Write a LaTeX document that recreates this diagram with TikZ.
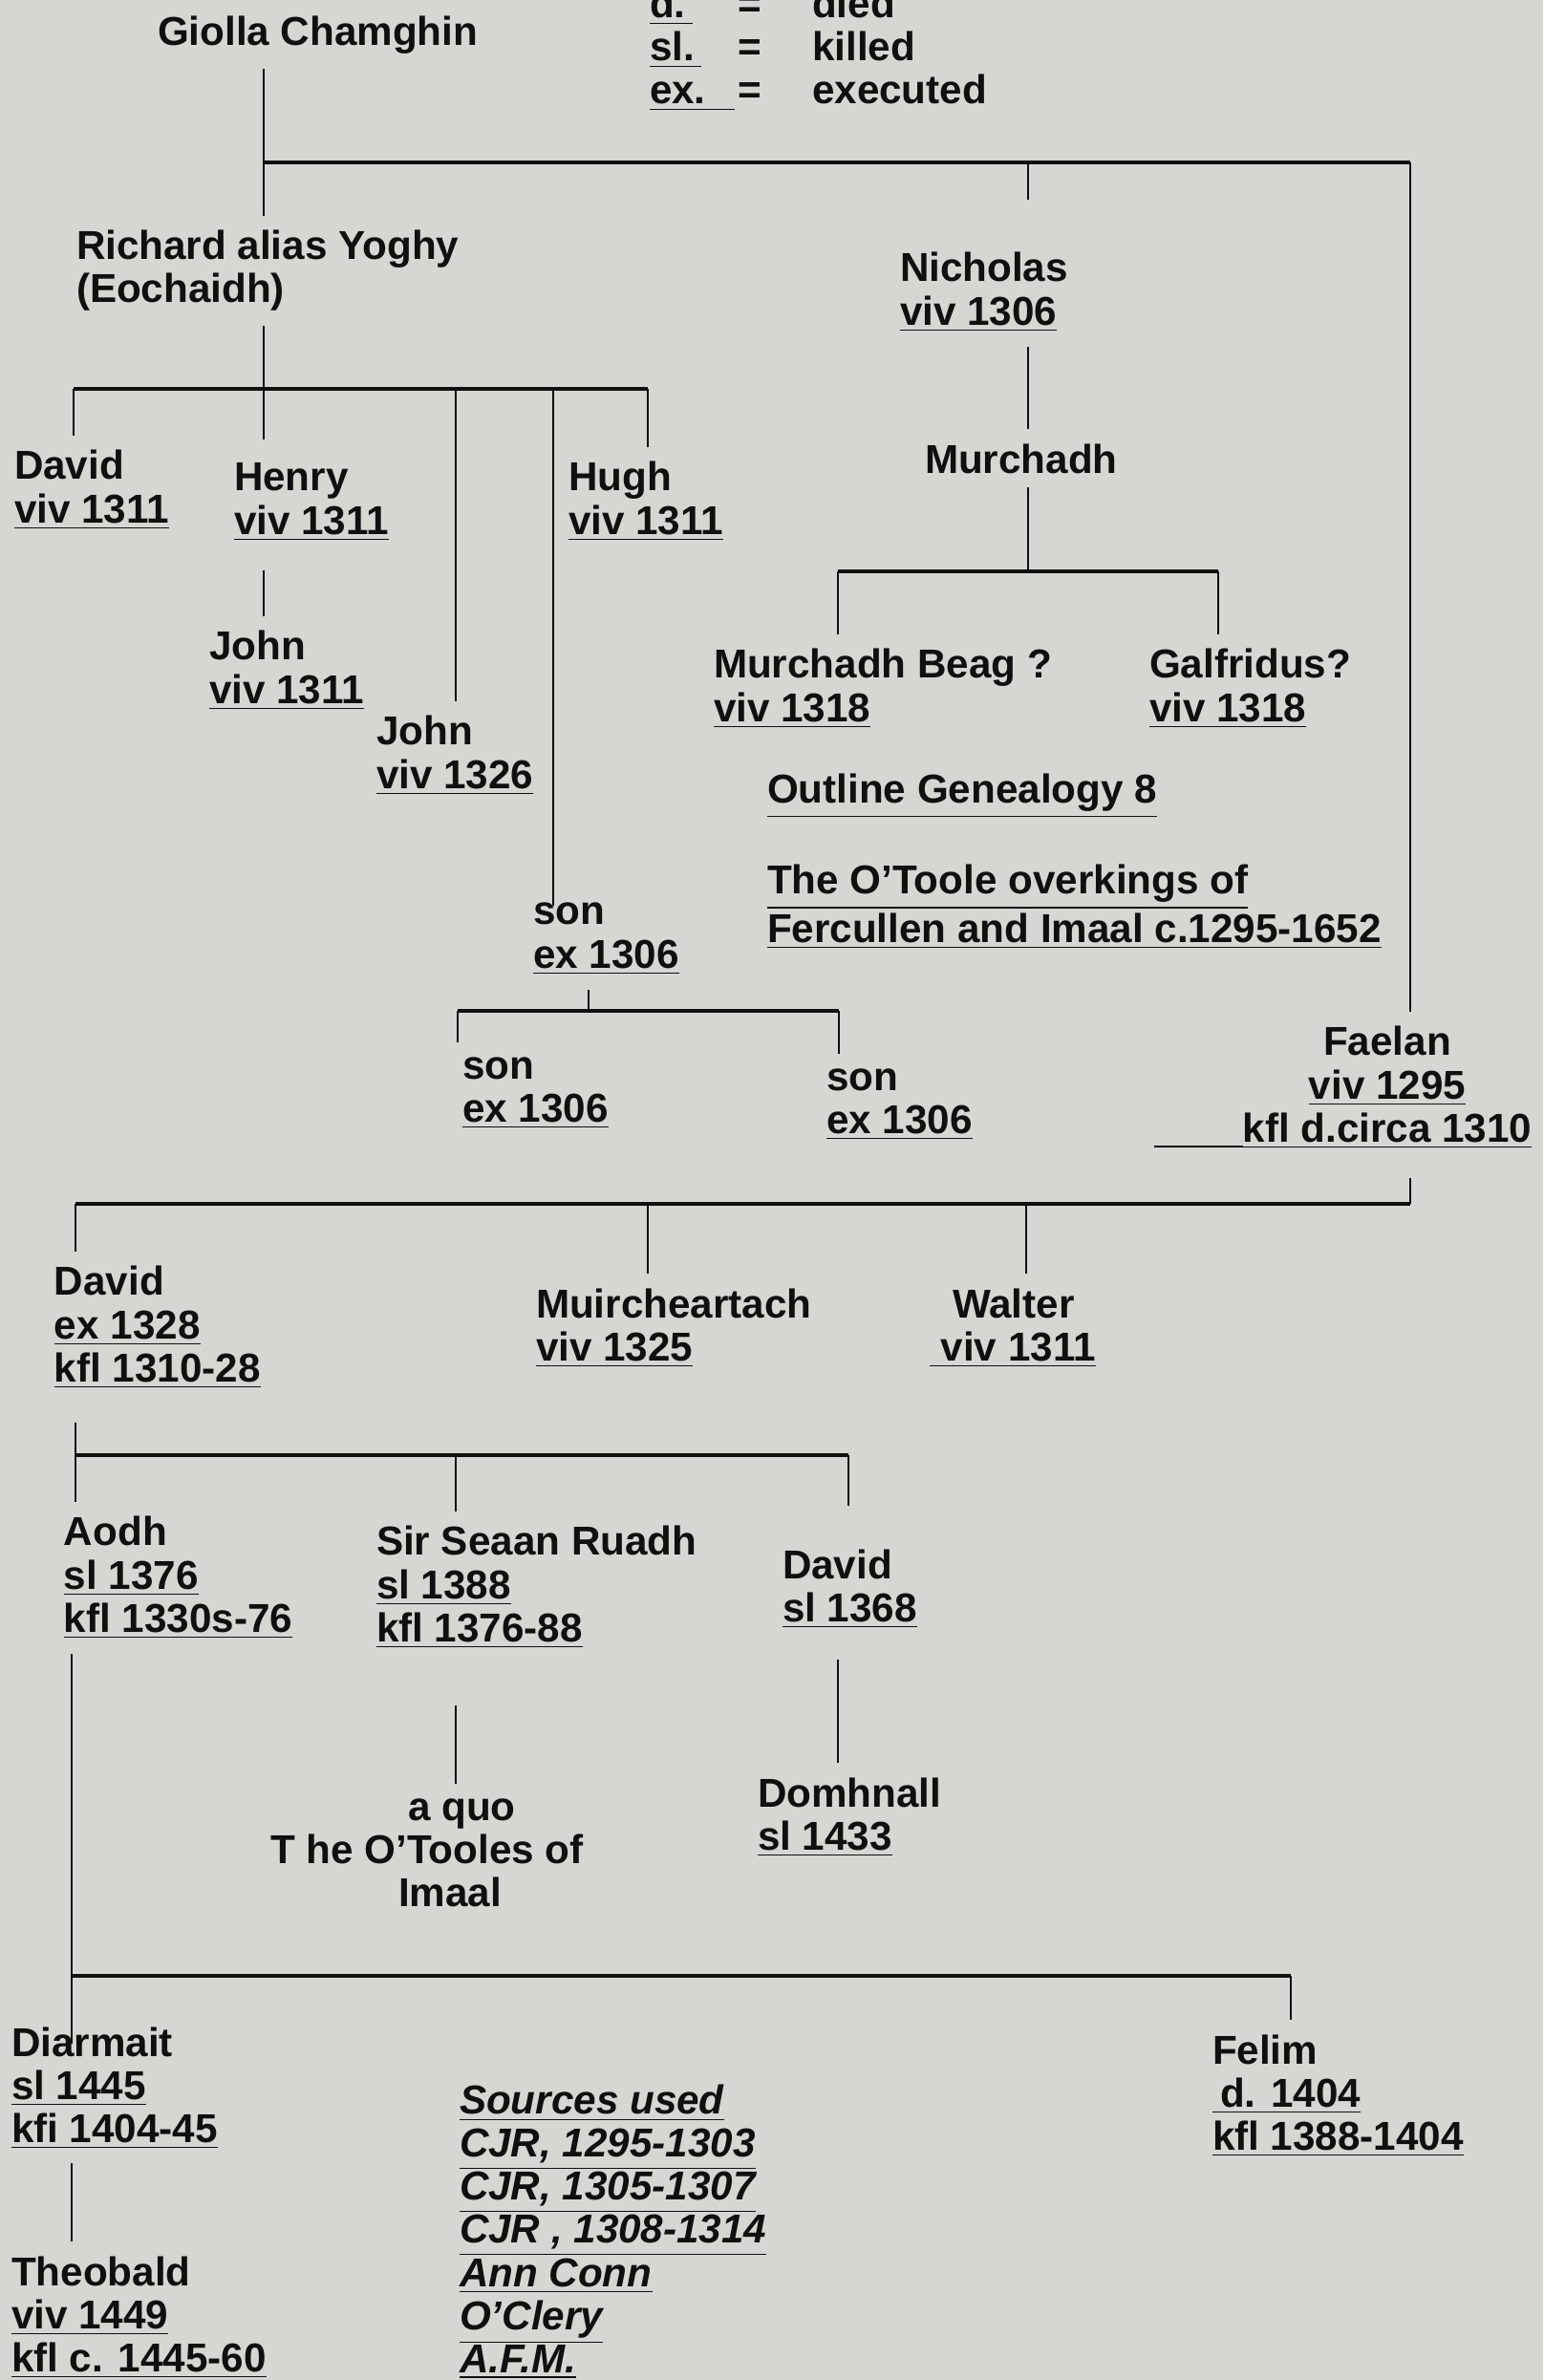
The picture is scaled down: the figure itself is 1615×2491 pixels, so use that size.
\documentclass[tikz,border=0pt]{standalone}
\usepackage{fontspec}
\setmainfont{Liberation Sans}
\definecolor{paper}{RGB}{214,215,211}
\definecolor{ink}{RGB}{16,16,16}

\begin{document}
\begin{tikzpicture}[
        x=0.01cm, y=-0.01cm,
        person/.style={anchor=base west, align=left, inner sep=0pt, outer xsep=0pt, outer ysep=0.15cm,
                       font=\bfseries\fontsize{12}{12.8}\selectfont, text=ink},
        tie/.style={draw=ink, line width=0.75pt},
        bar/.style={draw=ink, line width=1.1pt}
    ]
        \fill[paper] (0,0) rectangle (1615,2491);
        \useasboundingbox (0,0) rectangle (1615,2491);

        % people (placed at the baseline of their last line)
        \node[person] (giolla) at (165,48) {Giolla Chamghin};
        \node[person] (key) at (680,109) {\makebox[0.92cm][l]{\underline{d.\,}}\makebox[0.78cm][l]{=}died\\
            \makebox[0.92cm][l]{\underline{sl.\,}}\makebox[0.78cm][l]{=}killed\\
            \makebox[0.92cm][l]{\underline{ex.\hspace{0.3cm}}}\makebox[0.78cm][l]{=}executed};
        \node[person] (richard) at (80,317) {Richard alias Yoghy\\(Eochaidh)};
        \node[person] (nicholas) at (942,340) {Nicholas\\\underline{viv 1306}};
        \node[person] (david1) at (15,547) {David\\\underline{viv 1311}};
        \node[person] (henry) at (245,559) {Henry\\\underline{viv 1311}};
        \node[person] (hugh) at (595,559) {Hugh\\\underline{viv 1311}};
        \node[person] (john1) at (219,736) {John\\\underline{viv 1311}};
        \node[person] (john2) at (394,825) {John\\\underline{viv 1326}};
        \node[person] (murchadh) at (968,495) {Murchadh};
        \node[person] (beag) at (747,755) {Murchadh Beag ?\\\underline{viv 1318}};
        \node[person] (galfridus) at (1203,755) {Galfridus?\\\underline{viv 1318}};
        \node[person] (title) at (803,986) {\underline{Outline Genealogy 8}\\[0.45cm]
            \underline{The O’Toole overkings of}\\\underline{Fercullen and Imaal c.1295-1652}};
        \node[person] (son0) at (558,1013) {son\\\underline{ex 1306}};
        \node[person] (son1) at (484,1174) {son\\\underline{ex 1306}};
        \node[person] (son2) at (865,1186) {son\\\underline{ex 1306}};
        \node[person, anchor=base, align=center] (faelan) at (1452,1195) {Faelan\\\underline{viv 1295}\\
            \llap{\underline{\hspace{0.93cm}}}\underline{kfl d.circa 1310}};
        \node[person] (david2) at (57,1446) {David\\\underline{ex 1328}\\\underline{kfl 1310-28}};
        \node[person] (muirch) at (561,1424) {Muircheartach\\\underline{viv 1325}};
        \node[person] (walter) at (973,1424) {\hspace*{0.24cm}Walter\\\underline{\ viv 1311}};
        \node[person] (aodh) at (67,1708) {Aodh\\\underline{sl 1376}\\\underline{kfl 1330s-76}};
        \node[person] (seaan) at (394,1718) {Sir Seaan Ruadh\\\underline{sl 1388}\\\underline{kfl 1376-88}};
        \node[person] (david3) at (819,1697) {David\\\underline{sl 1368}};
        \node[person] (aquo) at (283,1995) {\hspace*{1.44cm}a quo\\T he O’Tooles of\\\hspace*{1.34cm}Imaal};
        \node[person] (domhnall) at (793,1936) {Domhnall\\\underline{sl 1433}};
        \node[person] (diarmait) at (12,2242) {Diarmait\\\underline{sl 1445}\\\underline{kfi 1404-45}};
        \node[person] (felim) at (1269,2250) {Felim\\\underline{\kern0.08cm d. 1404}\\\underline{kfl 1388-1404}};
        \node[person] (theobald) at (12,2482) {Theobald\\\underline{viv 1449}\\\underline{kfl c. 1445-60}};
        \node[person, font=\bfseries\itshape\fontsize{12}{12.8}\selectfont] (sources) at (481,2483) {\underline{Sources used}\\
            \underline{CJR, 1295-1303}\\\underline{CJR, 1305-1307}\\\underline{CJR , 1308-1314}\\
            \underline{Ann Conn}\\\underline{O’Clery}\\\underline{A.F.M.}};

        % family bars
        \coordinate (gc) at (276,170);
        \coordinate (gn) at (1076,170);
        \coordinate (gr) at (1476,170);
        \coordinate (ra) at (77,407);
        \coordinate (rc) at (276,407);
        \coordinate (r3) at (477,407);
        \coordinate (r4) at (579,407);
        \coordinate (rb) at (678,407);
        \coordinate (ma) at (877,598);
        \coordinate (mc) at (1076,598);
        \coordinate (mb) at (1275,598);
        \coordinate (sa) at (479,1058);
        \coordinate (sc) at (616,1058);
        \coordinate (sb) at (878,1058);
        \coordinate (fa) at (79,1260);
        \coordinate (f2) at (678,1260);
        \coordinate (f3) at (1074,1260);
        \coordinate (fb) at (1476,1260);
        \coordinate (dc) at (79,1523);
        \coordinate (d2) at (477,1523);
        \coordinate (db) at (888,1523);
        \coordinate (ea) at (75,2068);
        \coordinate (eb) at (1351,2068);

        \draw[bar] (gc) -- (gr);
        \draw[bar] (ra) -- (rb);
        \draw[bar] (ma) -- (mb);
        \draw[bar] (sa) -- (sb);
        \draw[bar] (fa) -- (fb);
        \draw[bar] (dc) -- (db);
        \draw[bar] (ea) -- (eb);

        % lines of descent
        \draw[tie] (giolla.south -| gc) -- (richard.north -| gc);
        \draw[tie, shorten >=0.4cm] (gn) -- (nicholas.north -| gn);
        \draw[tie] (gr) -- (faelan.north -| gr);
        \draw[tie, shorten <=0.15cm] (faelan.south -| fb) -- (fb);
        \draw[tie] (richard.south -| rc) -- (rc);
        \draw[tie] (ra) -- (david1.north -| ra);
        \draw[tie, shorten >=0.1cm] (rc) -- (henry.north -| rc);
        \draw[tie, shorten <=0.15cm] (henry.south -| rc) -- (john1.north -| rc);
        \draw[tie] (r3) -- (john2.north -| r3);
        \draw[tie, shorten >=-0.18cm] (r4) -- (son0.north -| r4);
        \draw[tie] (rb) -- (hugh.north -| rb);
        \draw[tie] (nicholas.south -| gn) -- (murchadh.north -| gn);
        \draw[tie] (murchadh.south -| mc) -- (mc);
        \draw[tie] (ma) -- (beag.north -| ma);
        \draw[tie] (mb) -- (galfridus.north -| mb);
        \draw[tie] (son0.south -| sc) -- (sc);
        \draw[tie] (sa) -- (son1.north -| sa);
        \draw[tie] (sb) -- (son2.north -| sb);
        \draw[tie] (fa) -- (david2.north -| fa);
        \draw[tie] (f2) -- (muirch.north -| f2);
        \draw[tie] (f3) -- (walter.north -| f3);
        \draw[tie, shorten <=0.2cm] (david2.south -| dc) -- (aodh.north -| dc);
        \draw[tie] (d2) -- (seaan.north -| d2);
        \draw[tie, shorten >=0.3cm] (db) -- (david3.north -| db);
        \draw[tie, shorten <=0.44cm] (seaan.south -| d2) -- (aquo.north -| d2);
        \draw[tie, shorten <=0.17cm] (david3.south -| ma) -- (domhnall.north -| ma);
        \draw[tie, shorten >=-0.33cm] (aodh.south -| ea) -- (diarmait.north -| ea);
        \draw[tie] (eb) -- (felim.north -| eb);
        \draw[tie] (diarmait.south -| ea) -- (theobald.north -| ea);
    \end{tikzpicture}
\end{document}
